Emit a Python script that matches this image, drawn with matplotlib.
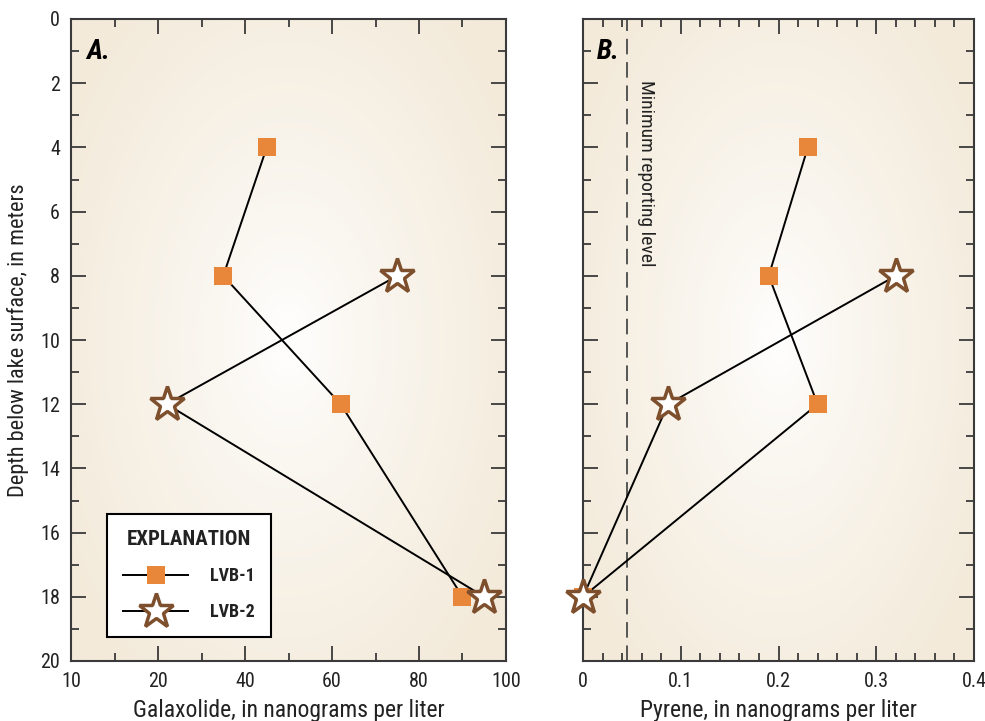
import numpy as np
import matplotlib
matplotlib.use("Agg")
import matplotlib.pyplot as plt
from matplotlib.lines import Line2D
from matplotlib.ticker import MultipleLocator, FixedLocator
import logging
logging.getLogger('matplotlib.font_manager').setLevel(logging.ERROR)

plt.rcParams['font.family'] = ['Roboto Condensed', 'Liberation Sans Narrow', 'Roboto', 'DejaVu Sans']

# Data
depth_lvb1 = [4, 8, 12, 18]
depth_lvb2 = [8, 12, 18]
galax_lvb1 = [45, 35, 62, 90]
galax_lvb2 = [75, 22, 95]
pyrene_lvb1 = [0.23, 0.19, 0.24, 0.0]
pyrene_lvb2 = [0.32, 0.087, 0.0]
mrl_pyrene = 0.045
galax_ticks = [0, 20, 40, 60, 80, 100]
galax_ticklabels = ["10", "20", "40", "60", "80", "100"]
pyrene_ticks = [0, 0.1, 0.2, 0.3, 0.4]
pyrene_ticklabels = ["0", "0.1", "0.2", "0.3", "0.4"]
depth_ticks = [0, 2, 4, 6, 8, 10, 12, 14, 16, 18, 20]

ORANGE = '#E8873A'
BROWN = '#7E4F2C'
SPINE = '#3a3a3a'
TXT = '#222222'

fig = plt.figure(figsize=(9.85, 7.21), dpi=100)
axA = fig.add_axes([71/985, 1-661/721, 435/985, 642/721])
axB = fig.add_axes([583/985, 1-661/721, 391/985, 642/721])

# radial gradient background
def gradient(ax):
    n = 300
    xx, yy = np.meshgrid(np.linspace(-1, 1, n), np.linspace(-1, 1, n))
    r = np.sqrt(xx**2 + (yy * 0.9)**2)
    r = np.clip(r / 1.2, 0, 1)
    inner = np.array([1.0, 1.0, 1.0])
    outer = np.array([0xF3, 0xEA, 0xDA]) / 255.0
    t = r**0.8
    img = inner[None, None, :] * (1 - t[..., None]) + outer[None, None, :] * t[..., None]
    ax.imshow(img, extent=[0, 1, 0, 1], transform=ax.transAxes, aspect='auto', zorder=0,
              interpolation='bilinear')

def style(ax):
    for s in ax.spines.values():
        s.set_color(SPINE)
        s.set_linewidth(1.5)
    ax.tick_params(axis='both', which='both', direction='in', colors=SPINE,
                   top=True, right=True, labelcolor=TXT, labelsize=14.5)
    ax.tick_params(which='major', length=11, width=1.3)
    ax.tick_params(which='minor', length=6, width=1.3)
    ax.set_ylim(20, 0)
    ax.yaxis.set_major_locator(FixedLocator(depth_ticks))
    ax.yaxis.set_minor_locator(MultipleLocator(1))
    ax.tick_params(axis='x', pad=8)
    ax.tick_params(axis='y', pad=8)

for ax in (axA, axB):
    gradient(ax)
    style(ax)

line_kw = dict(color='black', lw=1.4, zorder=3)
sq_kw = dict(marker='s', ms=13, mfc=ORANGE, mec=ORANGE, mew=0)
st_kw = dict(marker='*', ms=26, mfc='white', mec=BROWN, mew=2.5)

# Panel A
axA.plot(galax_lvb1, depth_lvb1, **line_kw, **sq_kw)
axA.plot(galax_lvb2, depth_lvb2, **line_kw, **st_kw)
axA.set_xlim(0, 100)
axA.xaxis.set_major_locator(FixedLocator(galax_ticks))
axA.set_xticklabels(galax_ticklabels)
axA.xaxis.set_minor_locator(MultipleLocator(10))
axA.set_xlabel('Galaxolide, in nanograms per liter', fontsize=17, color=TXT, labelpad=6)
axA.set_ylabel('Depth below lake surface, in meters', fontsize=16, color=TXT, labelpad=8)
axA.text(0.035, 0.97, 'A.', transform=axA.transAxes, fontsize=20, fontweight='bold',
         fontstyle='italic', va='top', ha='left', color='black')

# Panel B
axB.axvline(mrl_pyrene, color='#555555', lw=1.4, ls=(0, (8, 4)), zorder=2)
axB.plot(pyrene_lvb1, depth_lvb1, **line_kw, **sq_kw, clip_on=False)
axB.plot(pyrene_lvb2, depth_lvb2, **line_kw, **st_kw, clip_on=False)
axB.set_xlim(0, 0.4)
axB.xaxis.set_major_locator(FixedLocator(pyrene_ticks))
axB.set_xticklabels(pyrene_ticklabels)
axB.xaxis.set_minor_locator(MultipleLocator(0.02))
axB.set_yticklabels([])
axB.set_xlabel('Pyrene, in nanograms per liter', fontsize=17, color=TXT, labelpad=6)
axB.text(0.035, 0.97, 'B.', transform=axB.transAxes, fontsize=20, fontweight='bold',
         fontstyle='italic', va='top', ha='left', color='black')
axB.text(mrl_pyrene + 0.01, 1.9, 'Minimum reporting level', rotation=-90, fontsize=14,
         va='top', ha='left', color=TXT)

# Legend
h1 = Line2D([], [], **line_kw, **sq_kw)
h2 = Line2D([], [], **line_kw, **st_kw)
leg = axA.legend([h1, h2], ['LVB-1', 'LVB-2'], title='EXPLANATION', loc='lower left',
                 bbox_to_anchor=(0.083, 0.037), frameon=True, fancybox=False,
                 edgecolor='black', handlelength=3.6, borderpad=0.9, labelspacing=1.0,
                 handletextpad=1.2, fontsize=13, borderaxespad=0,
                 title_fontproperties={'weight': 'bold', 'size': 15})
leg.get_frame().set_linewidth(1.5)
leg.get_frame().set_facecolor('white')
leg.get_frame().set_alpha(1)
for t in leg.get_texts():
    t.set_fontweight('bold')
    t.set_color(TXT)
leg.get_title().set_color(TXT)

fig.savefig('out.png', dpi=100)
